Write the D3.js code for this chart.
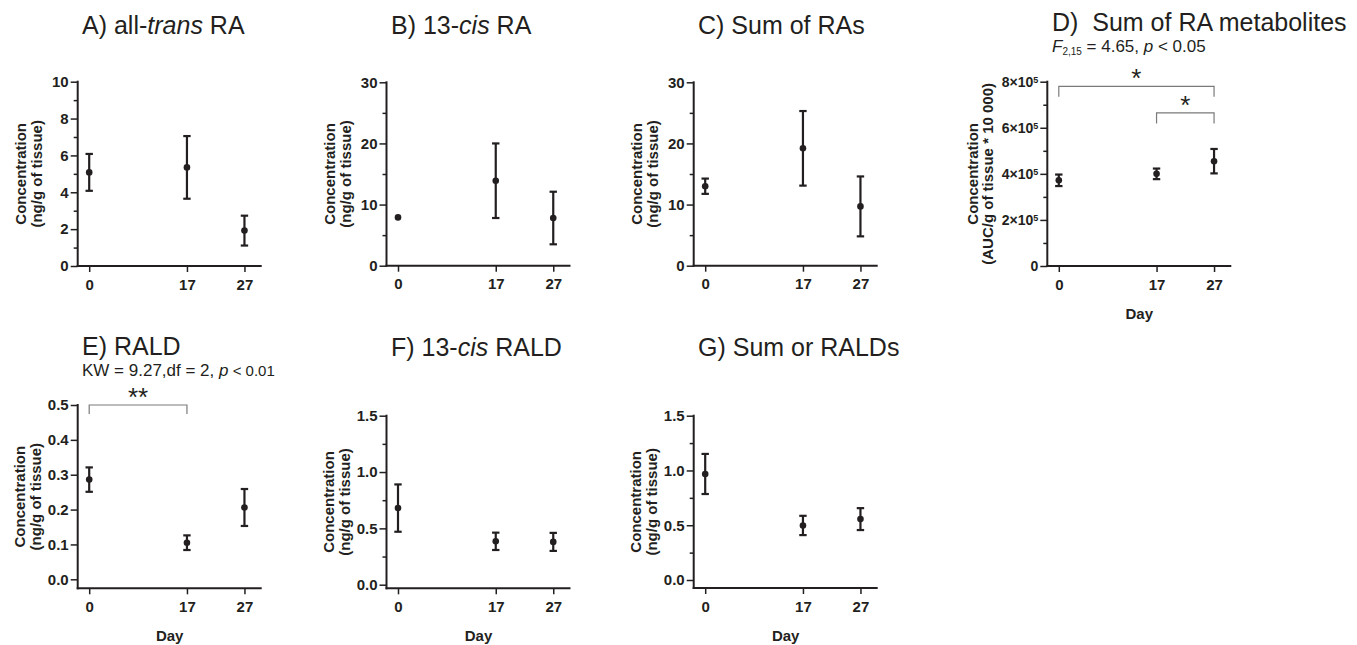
<!DOCTYPE html>
<html>
<head>
<meta charset="utf-8">
<script src="https://cdn.jsdelivr.net/npm/d3@7"></script>
<style>
  body { margin: 0; background: #fff; }
  text { font-family: "Liberation Sans", Arial, Helvetica, sans-serif; fill: #231f20; }
  .title { font-size: 25px; white-space: pre; }
  .sub { font-size: 17px; white-space: pre; }
  .ylab, .daylab { font-size: 15px; font-weight: bold; }
</style>
</head>
<body>
<div id="chart"></div>
<script>
// Retinoic acid / retinaldehyde levels by day, mean ± SEM

const days = [0, 17, 27];

// A) all-trans RA (ng/g)
const atraMean = [5.08, 5.35, 1.92];
const atraSem = [1.0, 1.7, 0.81];
// B) 13-cis RA (ng/g)
const cisRaMean = [7.9, 13.9, 7.8];
const cisRaSem = [0.1, 6.1, 4.3];
// C) sum of RAs (ng/g)
const sumRaMean = [13.0, 19.2, 9.7];
const sumRaSem = [1.25, 6.1, 4.9];
// D) sum of RA metabolites (AUC/g * 10 000)
const metabMean = [372000, 400000, 455000];
const metabSem = [25000, 23000, 53000];
// E) RALD (ng/g)
const raldMean = [0.286, 0.105, 0.206];
const raldSem = [0.035, 0.021, 0.053];
// F) 13-cis RALD (ng/g)
const cisRaldMean = [0.68, 0.385, 0.38];
const cisRaldSem = [0.21, 0.077, 0.08];
// G) sum of RALDs (ng/g)
const sumRaldMean = [0.968, 0.498, 0.556];
const sumRaldSem = [0.183, 0.088, 0.1];

// y tick values
const atraTicks = [0, 2, 4, 6, 8, 10];
const atraMinor = [1, 3, 5, 7, 9];
const raTicks = [0, 10, 20, 30];
const raMinor = [5, 15, 25];
const metabTicks = [0, 200000, 400000, 600000, 800000];
const metabMinor = [100000, 300000, 500000, 700000];
const raldTicks = [0, 0.1, 0.2, 0.3, 0.4, 0.5];
const sumRaldTicks = [0, 0.5, 1.0, 1.5];
const sumRaldMinor = [0.25, 0.75, 1.25];

// significance brackets
const metabBrackets = [
    { from: 0, to: 27, y: 780000, drop: 735000, label: "*" },
    { from: 17, to: 27, y: 665000, drop: 619000, label: "*" }
];
const raldBrackets = [
    { from: 0, to: 17, y: 0.5, drop: 0.474, label: "**" }
];

const ink = "#231f20";
const colX = [77.7, 386.5, 693.7, 1047.3];
const axisLen = 184;

const panels = [
    { title: [["A) all-"], ["trans", true], [" RA"]], tx: 82, ty: 34,
      mean: atraMean, sem: atraSem, col: 0, yMax: 10, major: atraTicks, minor: atraMinor,
      fmt: d3.format("d"), top: 81.7, zero: 266, axisY: 266, day: false, labOff: [-52, -36] },
    { title: [["B) 13-"], ["cis", true], [" RA"]], tx: 391, ty: 34,
      mean: cisRaMean, sem: cisRaSem, col: 1, yMax: 30, major: raTicks, minor: raMinor,
      fmt: d3.format("d"), top: 82.3, zero: 265.7, axisY: 265.7, day: false, labOff: [-52, -36] },
    { title: [["C) Sum of RAs"]], tx: 698, ty: 34,
      mean: sumRaMean, sem: sumRaSem, col: 2, yMax: 30, major: raTicks, minor: raMinor,
      fmt: d3.format("d"), top: 82.3, zero: 265.7, axisY: 265.7, day: false, labOff: [-52, -36] },
    { title: [["D)  Sum of RA metabolites"]], tx: 1052, ty: 31,
      mean: metabMean, sem: metabSem, col: 3, yMax: 800000, major: metabTicks, minor: metabMinor,
      fmt: d => d === 0 ? "0" : (d / 100000) + "×10", sup: true,
      top: 81.7, zero: 266, axisY: 266, day: true, labOff: [-69, -54],
      brackets: metabBrackets },
    { title: [["E) RALD"]], tx: 82, ty: 355,
      mean: raldMean, sem: raldSem, col: 0, yMax: 0.5, major: raldTicks, minor: [],
      fmt: d3.format(".1f"), top: 405, zero: 579.3, axisY: 588.3, day: true, labOff: [-53, -37],
      brackets: raldBrackets },
    { title: [["F) 13-"], ["cis", true], [" RALD"]], tx: 391, ty: 356,
      mean: cisRaldMean, sem: cisRaldSem, col: 1, yMax: 1.5, major: sumRaldTicks, minor: sumRaldMinor,
      fmt: d3.format(".1f"), top: 415.7, zero: 584.7, axisY: 588.3, day: true, labOff: [-53, -37] },
    { title: [["G) Sum or RALDs"]], tx: 698, ty: 356,
      mean: sumRaldMean, sem: sumRaldSem, col: 2, yMax: 1.5, major: sumRaldTicks, minor: sumRaldMinor,
      fmt: d3.format(".1f"), top: 415.7, zero: 580, axisY: 588, day: true, labOff: [-53, -37] }
];

const svg = d3.select("#chart")
    .append("svg")
    .attr("width", 1357)
    .attr("height", 645);

panels.forEach(function (p) {
    const x0 = colX[p.col];
    const x = d3.scaleLinear().domain([-2, 30]).range([x0, x0 + axisLen]);
    const y = d3.scaleLinear().domain([0, p.yMax]).range([p.zero, p.top]);
    const g = svg.append("g");

    // title
    const t = g.append("text").attr("class", "title").attr("x", p.tx).attr("y", p.ty);
    p.title.forEach(part => t.append("tspan").text(part[0]).attr("font-style", part[1] ? "italic" : null));

    // minor y ticks
    if (p.minor.length) {
        g.append("g")
            .attr("transform", `translate(${x0},0)`)
            .call(d3.axisLeft(y).tickValues(p.minor).tickSize(4).tickFormat(""))
            .call(s => s.select(".domain").remove())
            .call(s => s.selectAll("line").attr("stroke", ink).attr("stroke-width", 1.5));
    }

    // major y ticks
    const ya = g.append("g")
        .attr("transform", `translate(${x0},0)`)
        .call(d3.axisLeft(y).tickValues(p.major).tickSize(7).tickPadding(2).tickFormat(p.fmt));
    ya.select(".domain").remove();
    ya.selectAll("line").attr("stroke", ink).attr("stroke-width", 1.5);
    ya.selectAll("text")
        .attr("font-size", 15).attr("font-weight", "bold")
        .attr("font-family", "Liberation Sans, Arial, sans-serif");
    if (p.sup) {
        ya.selectAll(".tick text")
            .attr("font-size", 14)
            .filter(d => d !== 0)
            .append("tspan").text("5").attr("dy", "-0.45em").attr("font-size", "9px");
    }

    // x ticks
    const xa = g.append("g")
        .attr("transform", `translate(0,${p.axisY})`)
        .call(d3.axisBottom(x).tickValues(days).tickSize(6).tickPadding(7).tickFormat(d3.format("d")));
    xa.select(".domain").remove();
    xa.selectAll("line").attr("stroke", ink).attr("stroke-width", 1.5);
    xa.selectAll("text")
        .attr("font-size", 15).attr("font-weight", "bold")
        .attr("font-family", "Liberation Sans, Arial, sans-serif");

    // axis lines
    g.append("line")
        .attr("x1", x0).attr("x2", x0)
        .attr("y1", p.top - 1).attr("y2", p.axisY + 1)
        .attr("stroke", ink).attr("stroke-width", 2);
    g.append("line")
        .attr("x1", x0 - 1).attr("x2", x0 + axisLen)
        .attr("y1", p.axisY).attr("y2", p.axisY)
        .attr("stroke", ink).attr("stroke-width", 2);

    // y label
    const ylab = g.append("text").attr("class", "ylab")
        .attr("text-anchor", "middle")
        .attr("transform", `translate(0,${(p.top + p.axisY) / 2}) rotate(-90)`);
    ylab.append("tspan").attr("x", 0).attr("y", x0 + p.labOff[0]).text("Concentration");
    ylab.append("tspan").attr("x", 0).attr("y", x0 + p.labOff[1])
        .text(p.col === 3 ? "(AUC/g of tissue * 10 000)" : "(ng/g of tissue)");

    if (p.day) {
        g.append("text").attr("class", "daylab")
            .attr("text-anchor", "middle")
            .attr("x", x0 + axisLen / 2).attr("y", p.axisY + 53)
            .text("Day");
    }

    // error bars + means
    const pts = days.map((d, i) => ({ day: d, mean: p.mean[i], sem: p.sem[i] }));
    const bars = g.append("g").attr("stroke", ink).attr("stroke-width", 2.2)
        .selectAll("g")
        .data(pts.filter(d => y(d.mean) - y(d.mean + d.sem) > 3))
        .join("g");
    bars.append("line")
        .attr("x1", d => x(d.day)).attr("x2", d => x(d.day))
        .attr("y1", d => y(d.mean - d.sem)).attr("y2", d => y(d.mean + d.sem));
    [-1, 1].forEach(s => {
        bars.append("line")
            .attr("x1", d => x(d.day) - 3.7).attr("x2", d => x(d.day) + 3.7)
            .attr("y1", d => y(d.mean + s * d.sem)).attr("y2", d => y(d.mean + s * d.sem));
    });
    g.append("g").selectAll("circle")
        .data(pts)
        .join("circle")
        .attr("cx", d => x(d.day))
        .attr("cy", d => y(d.mean))
        .attr("r", 3.3)
        .attr("fill", ink);

    // significance brackets
    if (p.brackets) {
        p.brackets.forEach(b => {
            g.append("path")
                .attr("d", `M${x(b.from)},${y(b.drop)}V${y(b.y)}H${x(b.to)}V${y(b.drop)}`)
                .attr("fill", "none").attr("stroke", "#7a7a7a").attr("stroke-width", 1.2);
            g.append("text")
                .attr("x", (x(b.from) + x(b.to)) / 2)
                .attr("y", y(b.y) + 1)
                .attr("text-anchor", "middle")
                .attr("font-size", 26)
                .text(b.label);
        });
    }
});

// test statistics under titles
const subD = svg.append("text").attr("class", "sub").attr("x", 1052).attr("y", 52).attr("font-size", 14);
subD.append("tspan").attr("font-style", "italic").text("F");
subD.append("tspan").attr("font-size", "10px").attr("dy", "3").text("2,15");
subD.append("tspan").attr("dy", "-3").text(" = 4.65, ");
subD.append("tspan").attr("font-style", "italic").text("p");
subD.append("tspan").text(" < 0.05");

const subE = svg.append("text").attr("class", "sub").attr("x", 82).attr("y", 376);
subE.append("tspan").text("KW = 9.27,df = 2, ");
subE.append("tspan").attr("font-style", "italic").text("p");
subE.append("tspan").attr("font-size", "15px").text(" < 0.01");
</script>
</body>
</html>
